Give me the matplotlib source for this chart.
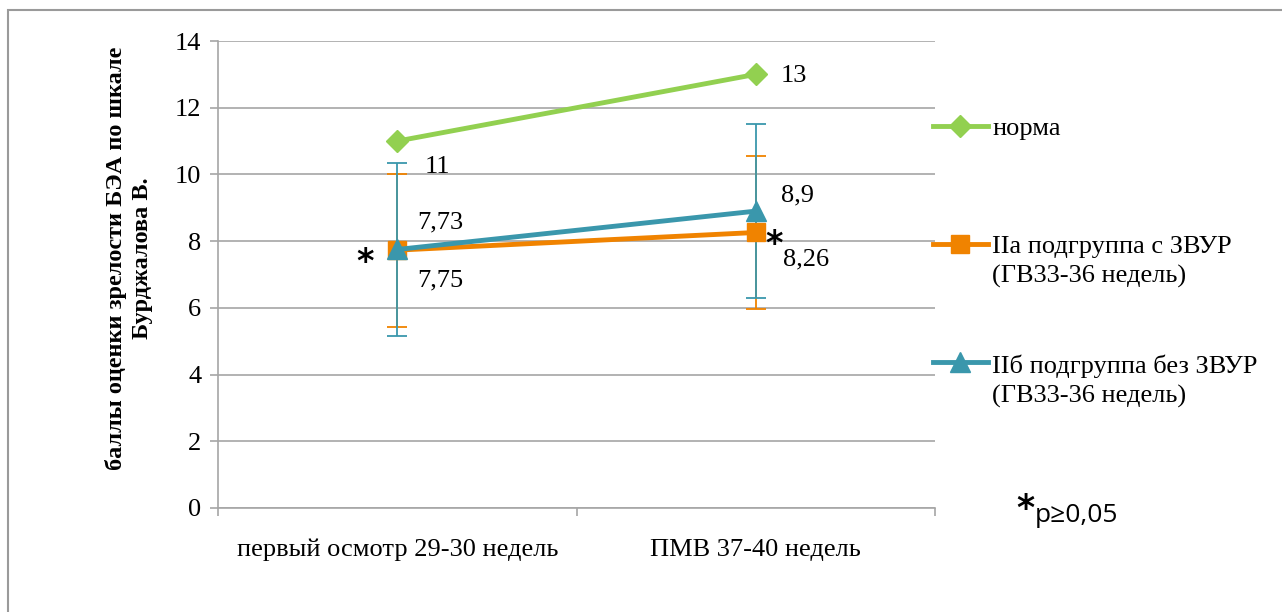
import matplotlib
matplotlib.use("Agg")
import matplotlib.pyplot as plt
from matplotlib.lines import Line2D
from matplotlib.patches import Rectangle

plt.rcParams["font.family"] = ["Liberation Serif", "DejaVu Serif"]

categories = ["первый осмотр 29-30 недель", "ПМВ 37-40 недель"]
norm = [11, 13]
group_a = [7.73, 8.26]
group_a_err = [2.29, 2.29]
group_b = [7.75, 8.9]
group_b_err = [2.6, 2.6]
labels_norm = ["11", "13"]
labels_a = ["7,73", "8,26"]
labels_b = ["7,75", "8,9"]
legend_names = ["норма", "IIа подгруппа с ЗВУР\n(ГВ33-36 недель)",
                "IIб подгруппа без ЗВУР\n(ГВ33-36 недель)"]

GREEN = "#92D050"
ORANGE = "#F08300"
TEAL = "#3A97AC"
GRID = "#A6A6A6"
FS = 19

fig = plt.figure(figsize=(12.82, 6.12), dpi=100)
ax = fig.add_axes([218 / 1282, 104 / 612, 717 / 1282, 467 / 612])

x = [0.5, 1.5]

ax.errorbar(x, group_a, yerr=group_a_err, fmt="none", ecolor=ORANGE,
            elinewidth=1.3, capsize=7, capthick=1.3, zorder=3)
ax.errorbar(x, group_b, yerr=group_b_err, fmt="none", ecolor=TEAL,
            elinewidth=1.3, capsize=7, capthick=1.3, zorder=3.5)
ax.plot(x, norm, color=GREEN, lw=3.5, marker="D", ms=11, zorder=4)
ax.plot(x, group_a, color=ORANGE, lw=3.5, marker="s", ms=13, zorder=4)
ax.plot(x, group_b, color=TEAL, lw=3.5, marker="^", ms=14, zorder=5)

# data labels
def put(xv, yv, text, dx, dy):
    ax.annotate(text, (xv, yv), xytext=(dx, dy), textcoords="offset pixels",
                ha="center", va="center", fontsize=FS)

put(x[0], norm[0], labels_norm[0], 40, -26)
put(x[1], norm[1], labels_norm[1], 38, -2)
put(x[0], group_a[0], labels_a[0], 43, 28)
put(x[1], group_a[1], labels_a[1], 50, -27)
put(x[0], group_b[0], labels_b[0], 43, -31)
put(x[1], group_b[1], labels_b[1], 42, 16)

# significance marks
for xv, yv, dx, dy in [(x[0], group_a[0], -32, -12), (x[1], group_a[1], 18, -12)]:
    ax.annotate("*", (xv, yv), xytext=(dx, dy), textcoords="offset pixels",
                ha="center", va="center", fontsize=24, fontweight="bold",
                family="DejaVu Sans")

ax.set_xlim(0, 2)
ax.set_ylim(0, 14)
ax.set_yticks(range(0, 15, 2))
ax.set_xticks([0, 1, 2])
ax.set_xticklabels([])
ax.set_xticks(x, categories, minor=True)
ax.tick_params(axis="x", which="minor", length=0, pad=22, labelsize=FS)
ax.tick_params(axis="x", which="major", length=6, color=GRID, width=1.2)
ax.tick_params(axis="y", length=6, color=GRID, width=1.2, labelsize=FS, pad=6)
ax.yaxis.grid(True, color=GRID, lw=1.2)
ax.set_axisbelow(True)
for side in ["top", "right"]:
    ax.spines[side].set_visible(False)
for side in ["left", "bottom"]:
    ax.spines[side].set_color(GRID)
    ax.spines[side].set_linewidth(1.2)

ax.set_ylabel("баллы оценки зрелости БЭА по шкале\nБурджалова В.",
              fontsize=17.5, fontweight="bold", linespacing=1.35,
              va="center", ha="center")
ax.yaxis.set_label_coords(-0.124, 0.535)

# legend drawn by hand so the marker sits at the first text line
W, H = 1282, 612
entries = [(GREEN, "D", 11, 126), (ORANGE, "s", 13, 244), (TEAL, "^", 14, 362)]
for (color, marker, ms, ypx), name in zip(entries, legend_names):
    yf = 1 - ypx / H
    fig.add_artist(Line2D([933 / W, 960 / W, 988 / W], [yf, yf, yf],
                          color=color, lw=3.5, marker=marker, ms=ms,
                          markevery=[1], transform=fig.transFigure))
    fig.text(992 / W, 1 - (ypx - 8) / H, name, fontsize=FS,
             va="top", ha="left", linespacing=1.4)

fig.text(1016 / W, 1 - 509 / H, "*", fontsize=25, fontweight="bold",
         family="DejaVu Sans", ha="left", va="center")
fig.text(1035 / W, 1 - 515 / H, "p≥0,05", fontsize=19,
         family="Open Sans", ha="left", va="center")

# chart border
fig.add_artist(Rectangle((8 / W, -0.1), 1.2, 1.1 - 10 / H, fill=False,
                         edgecolor="#9A9A9A", lw=1.5, transform=fig.transFigure))

fig.savefig("out.png", dpi=100)
